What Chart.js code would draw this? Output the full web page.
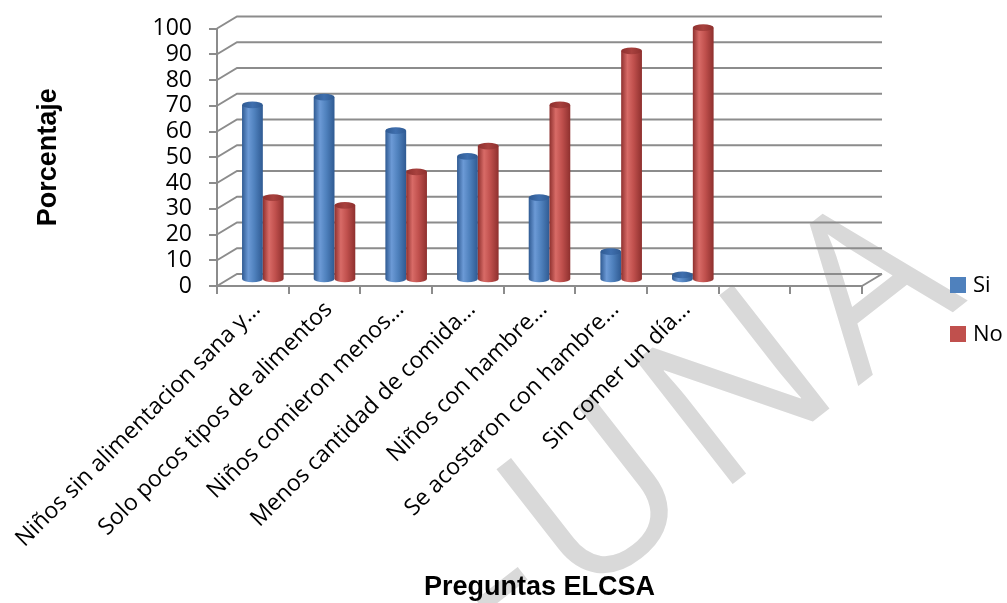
<!DOCTYPE html>
<html>
<head>
<meta charset="utf-8">
<script src="https://cdn.jsdelivr.net/npm/chart.js@4.4.1/dist/chart.umd.min.js"></script>
<style>
  html, body { margin: 0; padding: 0; background: #ffffff; }
  canvas { display: block; }
</style>
</head>
<body>
<canvas id="chart" width="1007" height="603"></canvas>
<script>
// Categories (two trailing empty slots on the axis)
const categories = [
  'Niños sin alimentacion sana y…',
  'Solo pocos tipos de alimentos',
  'Niños comieron menos…',
  'Menos cantidad de comida…',
  'Niños con hambre…',
  'Se acostaron con hambre…',
  'Sin comer un día…',
  '',
  ''
];
const siValues = [68, 71, 58, 48, 32, 11, 2];
const noValues = [32, 29, 42, 52, 68, 89, 98];
const yTickValues = [0, 10, 20, 30, 40, 50, 60, 70, 80, 90, 100];
const seriesNames = ['Si', 'No'];

const GRID = '#8c8c8c';
const DEPTH_X = 20, DEPTH_Y = 12;           // back wall offset
const SHADES = {
  Si: { base: '#4f81bd', dark: '#2f5a92', light: '#6c9ad6', cap: '#3f6fae' },
  No: { base: '#c0504d', dark: '#8e302e', light: '#d86b67', cap: '#a8413e' }
};

// faint diagonal watermark behind everything
const watermark = {
  id: 'watermark',
  beforeDraw(chart) {
    const ctx = chart.ctx;
    ctx.save();
    ctx.translate(510, 658);
    ctx.rotate(-38 * Math.PI / 180);
    ctx.font = '400 220px "Open Sans"';
    if ('letterSpacing' in ctx) ctx.letterSpacing = '15px';
    ctx.fillStyle = '#d9d9d9';
    ctx.textBaseline = 'alphabetic';
    ctx.fillText('-UNA', 0, 0);
    ctx.restore();
  }
};

function cylinder(ctx, cx, top, base, w, c) {
  const rx = w / 2, ry = w * 0.16;
  const l = cx - rx, r = cx + rx;
  const g = ctx.createLinearGradient(l, 0, r, 0);
  g.addColorStop(0, c.dark);
  g.addColorStop(0.3, c.light);
  g.addColorStop(0.6, c.base);
  g.addColorStop(1, c.dark);
  ctx.fillStyle = g;
  ctx.beginPath();
  ctx.moveTo(l, top);
  ctx.lineTo(l, base);
  ctx.ellipse(cx, base, rx, ry, 0, Math.PI, 0, true);
  ctx.lineTo(r, top);
  ctx.closePath();
  ctx.fill();
  const g2 = ctx.createLinearGradient(l, 0, r, 0);
  g2.addColorStop(0, c.dark);
  g2.addColorStop(0.5, c.cap);
  g2.addColorStop(1, c.dark);
  ctx.fillStyle = g2;
  ctx.beginPath();
  ctx.ellipse(cx, top, rx, ry, 0, 0, Math.PI * 2);
  ctx.fill();
}

// 3D walls, floor edge and cylinder columns
const columns3d = {
  id: 'columns3d',
  beforeDatasetsDraw(chart) {
    const ctx = chart.ctx;
    const { left, right, bottom } = chart.chartArea;
    const ys = chart.scales.y;
    ctx.save();
    ctx.strokeStyle = GRID;
    ctx.lineWidth = 2;
    yTickValues.forEach(v => {
      const y = ys.getPixelForValue(v);
      ctx.beginPath();
      ctx.moveTo(left, y);
      ctx.lineTo(left + DEPTH_X, y - DEPTH_Y);
      ctx.lineTo(right + DEPTH_X, y - DEPTH_Y);
      ctx.stroke();
    });
    ctx.beginPath();
    ctx.moveTo(right, bottom);
    ctx.lineTo(right + DEPTH_X, bottom - DEPTH_Y);
    ctx.stroke();

    const sx = DEPTH_X / 2, sy = DEPTH_Y / 2;
    chart.data.datasets.forEach((ds, i) => {
      const meta = chart.getDatasetMeta(i);
      const c = SHADES[ds.label];
      meta.data.forEach(bar => {
        if (bar.skip || bar.y == null || isNaN(bar.y)) return;
        cylinder(ctx, bar.x + sx, bar.y - sy, bar.base - sy, bar.width, c);
      });
    });
    ctx.restore();
    return false;
  },
  afterDraw(chart) {
    const ctx = chart.ctx;
    ctx.save();
    ctx.font = '22px "Open Sans"';
    ctx.textBaseline = 'middle';
    chart.data.datasets.forEach((ds, i) => {
      const y = 285 + i * 49;
      ctx.fillStyle = ds.backgroundColor;
      ctx.fillRect(950, y - 8, 16, 16);
      ctx.fillStyle = '#000';
      ctx.fillText(ds.label, 973, y + 1);
    });
    ctx.restore();
  }
};

new Chart(document.getElementById('chart'), {
  type: 'bar',
  data: {
    labels: categories,
    datasets: [
      { label: seriesNames[0], data: siValues, backgroundColor: SHADES.Si.base },
      { label: seriesNames[1], data: noValues, backgroundColor: SHADES.No.base }
    ]
  },
  options: {
    responsive: false,
    animation: false,
    devicePixelRatio: 1,
    layout: { padding: { left: 0, top: 28, right: 145, bottom: 0 } },
    datasets: { bar: { categoryPercentage: 0.58, barPercentage: 1 } },
    plugins: { legend: { display: false }, tooltip: { enabled: false } },
    scales: {
      x: {
        grid: { offset: true, drawOnChartArea: false, drawTicks: true, tickLength: 8, color: GRID, lineWidth: 2 },
        border: { display: true, color: GRID, width: 2 },
        ticks: {
          autoSkip: false, minRotation: 45, maxRotation: 45, padding: 2, labelOffset: 4,
          color: '#000', font: { family: '"Open Sans"', size: 23 }
        },
        title: {
          display: true, text: 'Preguntas ELCSA', color: '#000',
          font: { family: '"Liberation Sans", Arial', size: 27, weight: 'bold', lineHeight: 1 },
          padding: { top: 0, bottom: 2 }
        },
        afterFit(scale) { scale.height = 317; }
      },
      y: {
        min: 0, max: 100,
        afterBuildTicks(scale) { scale.ticks = yTickValues.map(v => ({ value: v })); },
        grid: { drawOnChartArea: false, drawTicks: true, tickLength: 8, color: GRID, lineWidth: 2 },
        border: { display: true, color: GRID, width: 2 },
        ticks: {
          autoSkip: false, padding: 17, color: '#000',
          font: { family: '"Open Sans"', size: 23, lineHeight: 1 }
        },
        title: {
          display: true, text: 'Porcentaje', color: '#000',
          font: { family: '"Liberation Sans", Arial', size: 27, weight: 'bold', lineHeight: 1.2 },
          padding: { top: 32, bottom: 0 }
        },
        afterFit(scale) { scale.width = 217; }
      }
    }
  },
  plugins: [watermark, columns3d]
});
</script>
</body>
</html>
